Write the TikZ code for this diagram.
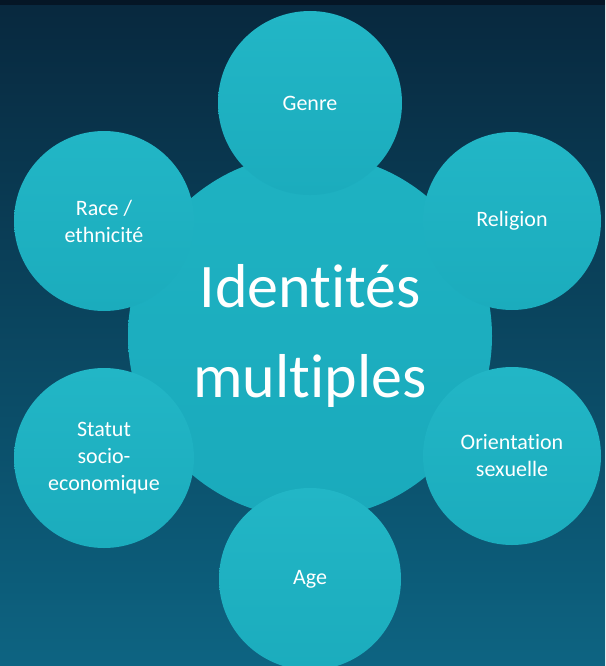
\documentclass[tikz,border=0pt]{standalone}
\usepackage{fontspec}
\setmainfont[Ligatures=NoCommon]{Carlito}
\begin{document}
\begin{tikzpicture}[x=1pt,y=-1pt,
  bub/.style={circle,inner sep=0pt,minimum size=#1,
    top color=bubtop,bottom color=bubbot,text=white,align=center,
    font=\fontsize{22}{27}\selectfont},
  hub/.style={circle,inner sep=0pt,minimum size=364pt,
    top color=hubtop,bottom color=hubbot,text=white,align=center,
    font=\fontsize{62}{90}\selectfont}]
\definecolor{bgtop}{RGB}{8,40,62}
\definecolor{bgbot}{RGB}{13,100,130}
\definecolor{bubtop}{RGB}{34,182,198}
\definecolor{bubbot}{RGB}{27,172,189}
\definecolor{hubtop}{RGB}{30,178,194}
\definecolor{hubbot}{RGB}{26,170,188}
\definecolor{strip}{RGB}{5,22,38}
\useasboundingbox (0,0) rectangle (605,666);
\shade[top color=bgtop,bottom color=bgbot] (0,0) rectangle (605,666);
\fill[strip] (0,0) rectangle (605,5);
\node[hub] (c) at (310,336) {Identités\\multiples};
\node[bub=184pt] (genre) at (310,103) {Genre};
\node[bub=180pt] (race) at (104,221) {Race /\\ethnicité};
\node[bub=178pt] (religion) at (512,221) {Religion};
\node[bub=180pt] (statut) at (104,458) {Statut\\socio-\\economique};
\node[bub=178pt] (orient) at (512,456) {Orientation\\sexuelle};
\node[bub=182pt] (age) at (310,579) {Age};
\end{tikzpicture}
\end{document}
